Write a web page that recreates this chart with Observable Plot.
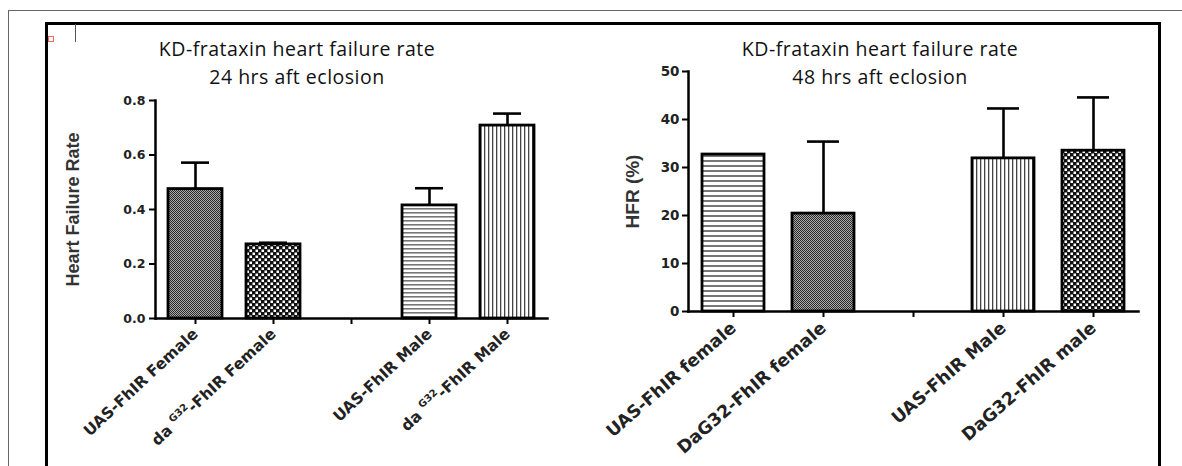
<!DOCTYPE html>
<html><head><meta charset="utf-8">
<script src="https://cdn.jsdelivr.net/npm/d3@7"></script>
<script src="https://cdn.jsdelivr.net/npm/@observablehq/plot@0.6"></script>
<style>
html,body{margin:0;padding:0;background:#fff;}
#page{position:relative;width:1182px;height:466px;overflow:hidden;background:#fff;}
.title{position:absolute;width:440px;text-align:center;font-family:"Open Sans",sans-serif;font-size:19.5px;letter-spacing:0.5px;line-height:28px;color:#111;}
.panel{position:absolute;top:0;}
.line{position:absolute;box-sizing:border-box;}
</style></head>
<body><div id="page"></div>
<script>
// ---------- data ----------
const cats24 = ["UAS-FhIR Female", "daG32-FhIR Female", " ", "UAS-FhIR Male", "daG32-FhIR Male"];
const rate24 = [0.475, 0.272, null, 0.415, 0.708];
const sem24 = [0.097, 0.006, null, 0.063, 0.044];
const yTicks24 = [0, 0.2, 0.4, 0.6, 0.8];

const cats48 = ["UAS-FhIR female", "DaG32-FhIR female", " ", "UAS-FhIR Male", "DaG32-FhIR male"];
const hfr48 = [32.7, 20.4, null, 31.9, 33.5];
const sem48 = [0, 15.0, null, 10.4, 11.1];
const yTicks48 = [0, 10, 20, 30, 40, 50];

const titles24 = ["KD-frataxin heart failure rate", "24 hrs aft eclosion"];
const titles48 = ["KD-frataxin heart failure rate", "48 hrs aft eclosion"];
const ylab24 = "Heart Failure Rate";
const ylab48 = "HFR (%)";

// ---------- styles ----------
const patterns24 = {"UAS-FhIR Female": "fine", "daG32-FhIR Female": "checker", "UAS-FhIR Male": "hstripe", "daG32-FhIR Male": "vstripe"};
const patterns48 = {"UAS-FhIR female": "hstripe", "DaG32-FhIR female": "fine", "UAS-FhIR Male": "vstripe", "DaG32-FhIR male": "checker"};

function defsMarkup(prefix, hp, hw) {
  return `
  <pattern id="${prefix}-fine" width="2" height="2" patternUnits="userSpaceOnUse">
    <rect width="2" height="2" fill="#aaa"/><rect width="1" height="1" fill="#2a2a2a"/><rect x="1" y="1" width="1" height="1" fill="#2a2a2a"/>
  </pattern>
  <pattern id="${prefix}-checker" width="6" height="6" patternUnits="userSpaceOnUse">
    <rect width="6" height="6" fill="#111"/><rect x="0.5" y="0.5" width="2.5" height="2.5" fill="#fff"/><rect x="3.5" y="3.5" width="2.5" height="2.5" fill="#fff"/>
  </pattern>
  <pattern id="${prefix}-hstripe" width="8" height="${hp}" patternUnits="userSpaceOnUse">
    <rect width="8" height="${hp}" fill="#fff"/><rect width="8" height="${hw}" fill="#777"/>
  </pattern>
  <pattern id="${prefix}-vstripe" width="4" height="8" patternUnits="userSpaceOnUse">
    <rect width="4" height="8" fill="#fff"/><rect width="1.3" height="8" fill="#444"/>
  </pattern>`;
}

function makePanel(cfg) {
  const rows = cfg.cats.map((c, i) => ({cat: c, v: cfg.vals[i], e: cfg.errs[i]})).filter(d => d.v != null);
  const svg = Plot.plot({
    width: cfg.width, height: 466,
    marginLeft: cfg.ml, marginRight: cfg.mr, marginTop: cfg.mt, marginBottom: cfg.mb,
    style: {background: "transparent", overflow: "visible"},
    x: {domain: cfg.cats, paddingInner: 0.31, paddingOuter: 0.155, axis: null, label: null},
    y: {domain: cfg.yDomain, axis: null, label: null},
    color: {type: "identity"},
    marks: [
      Plot.ruleX(rows.filter(d => d.e > 0), {x: "cat", y1: "v", y2: d => d.v + d.e, stroke: "#000", strokeWidth: 2.6}),
      Plot.tickY(rows.filter(d => d.e > 0), {x: "cat", y: d => d.v + d.e, stroke: "#000", strokeWidth: 2.6, insetLeft: cfg.capInset, insetRight: cfg.capInset}),
      Plot.barY(rows, {x: "cat", y: "v", fill: d => `url(#${cfg.prefix}-${cfg.patterns[d.cat]})`, stroke: "#000", strokeWidth: 2.8}),
      Plot.axisY({ticks: cfg.yTicks, tickFormat: cfg.yFormat, tickSize: cfg.yTickSize, tickPadding: cfg.yTickPad,
        fontSize: cfg.tickFont, fontWeight: "bold", fontFamily: "DejaVu Sans", fill: "#222", stroke: "#000", strokeWidth: 2, label: null}),
      Plot.axisX({tickSize: 6, tickRotate: cfg.xRotate, tickPadding: cfg.xTickPad, tickFormat: d => d,
        fontSize: cfg.xFont, fontWeight: "bold", fontFamily: "DejaVu Sans", fill: "#222", stroke: "#000", strokeWidth: 2, label: null}),
      Plot.frame({anchor: "left", stroke: "#000", strokeWidth: 2.5}),
      Plot.frame({anchor: "bottom", stroke: "#000", strokeWidth: 2.5}),
      Plot.text([cfg.ylab], {frameAnchor: "left", textAnchor: "middle", dx: cfg.ylabDx, rotate: -90, fontSize: cfg.ylabFont, fontWeight: "bold",
        fontFamily: "Liberation Sans", fill: "#333"})
    ]
  });
  const defs = document.createElementNS("http://www.w3.org/2000/svg", "defs");
  defs.innerHTML = defsMarkup(cfg.prefix, cfg.hp, cfg.hw);
  svg.insertBefore(defs, svg.firstChild);
  // superscript for da^G32 labels
  svg.querySelectorAll("text").forEach(t => {
    const s = t.textContent;
    if (s.startsWith("daG32")) {
      const rest = s.slice(5);
      t.textContent = "";
      const NS = "http://www.w3.org/2000/svg";
      const a = document.createElementNS(NS, "tspan"); a.textContent = "da ";
      const b = document.createElementNS(NS, "tspan"); b.textContent = "G32"; b.setAttribute("dy", "-7"); b.setAttribute("font-size", "10");
      const c = document.createElementNS(NS, "tspan"); c.textContent = rest; c.setAttribute("dy", "7");
      t.append(a, b, c);
    }
  });
  svg.classList.add("panel");
  svg.style.position = "absolute";
  svg.style.left = cfg.left + "px";
  svg.style.top = "0px";
  svg.style.maxWidth = "none";
  return svg;
}

const page = document.getElementById("page");

page.appendChild(makePanel({
  prefix: "p24", cats: cats24, vals: rate24, errs: sem24, patterns: patterns24,
  yDomain: [0, 0.8], yTicks: yTicks24, yFormat: d3.format(".1f"),
  left: 0, width: 560, ml: 155, mr: 13, mt: 100, mb: 148,
  capInset: 13, tickFont: 12.5, xFont: 15.5, xRotate: -43, xTickPad: 7, yTickSize: 6, yTickPad: 4,
  ylab: ylab24, ylabDx: -82, ylabFont: 18, hp: 4, hw: 1.6
}));

page.appendChild(makePanel({
  prefix: "p48", cats: cats48, vals: hfr48, errs: sem48, patterns: patterns48,
  yDomain: [0, 50], yTicks: yTicks48, yFormat: d => String(d),
  left: 560, width: 600, ml: 128, mr: 22, mt: 71, mb: 155,
  capInset: 15, tickFont: 13.5, xFont: 17.5, xRotate: -41, xTickPad: 8, yTickSize: 6, yTickPad: 3,
  ylab: ylab48, ylabDx: -56, ylabFont: 19, hp: 5, hw: 2
}));

function addTitle(lines, cx) {
  const d = document.createElement("div");
  d.className = "title";
  d.style.left = (cx - 220) + "px";
  d.style.top = "35px";
  d.innerHTML = lines.map(l => `<div>${l}</div>`).join("");
  page.appendChild(d);
}
addTitle(titles24, 297);
addTitle(titles48, 880);

function addLine(css) {
  const d = document.createElement("div");
  d.className = "line";
  Object.assign(d.style, css);
  page.appendChild(d);
}
// thin outer frame
addLine({left: "8px", top: "10px", width: "1174px", height: "0px", borderTop: "1.5px solid #666"});
addLine({left: "8px", top: "10px", width: "0px", height: "460px", borderLeft: "1.5px solid #666"});
// thick inner frame
addLine({left: "45px", top: "22px", width: "1116px", height: "470px", border: "3px solid #000"});
// small artifacts
addLine({left: "48px", top: "36px", width: "6px", height: "6px", border: "1px solid #e66"});
addLine({left: "75px", top: "24px", width: "0px", height: "18px", borderLeft: "1.5px solid #555"});
</script>
</body></html>
